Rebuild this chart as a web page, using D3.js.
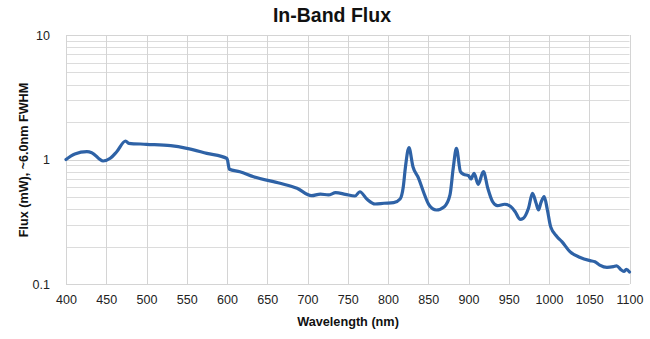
<!DOCTYPE html>
<html>
<head>
<meta charset="utf-8">
<script src="https://cdn.jsdelivr.net/npm/d3@7"></script>
<style>
  html, body { margin: 0; padding: 0; background: #fff; }
  svg { display: block; font-family: "Liberation Sans", Arial, sans-serif; }
</style>
</head>
<body>
<svg id="chart" width="650" height="339"></svg>
<script>
// In-band flux spectrum (mW, ~6.0 nm FWHM) vs wavelength (nm)
const wavelength = [400, 411, 426, 432, 446, 455, 463, 474, 478, 500, 530, 550, 575, 600, 603, 616, 633, 666, 687, 705, 716, 726, 735, 747, 759, 765, 774, 784, 795, 807, 815, 819, 821.5, 826, 831, 838, 844, 851, 860, 870, 877, 881, 885, 890, 894, 900, 903, 907, 912, 918.5, 924, 930, 936, 945, 952, 958, 964, 968, 974.5, 979.5, 984, 987, 990, 994, 998, 1002, 1010, 1016, 1026, 1038, 1051, 1057, 1063, 1072, 1080, 1084, 1089, 1093, 1096, 1100];
const flux = [1.0, 1.107, 1.155, 1.134, 0.973, 1.022, 1.155, 1.408, 1.349, 1.325, 1.291, 1.23, 1.121, 1.019, 0.834, 0.798, 0.727, 0.644, 0.587, 0.512, 0.528, 0.519, 0.541, 0.525, 0.509, 0.551, 0.479, 0.439, 0.445, 0.45, 0.482, 0.605, 0.85, 1.244, 0.875, 0.706, 0.551, 0.431, 0.393, 0.418, 0.519, 0.85, 1.23, 0.798, 0.76, 0.741, 0.697, 0.775, 0.632, 0.798, 0.587, 0.458, 0.426, 0.437, 0.421, 0.381, 0.331, 0.337, 0.406, 0.535, 0.445, 0.393, 0.45, 0.503, 0.393, 0.289, 0.24, 0.219, 0.182, 0.164, 0.154, 0.151, 0.142, 0.136, 0.138, 0.14, 0.131, 0.126, 0.131, 0.125];

const xTicks = [400, 450, 500, 550, 600, 650, 700, 750, 800, 850, 900, 950, 1000, 1050, 1100];
const yTicks = [0.1, 1, 10];
const yMinor = [0.2, 0.3, 0.4, 0.5, 0.6, 0.7, 0.8, 0.9, 2, 3, 4, 5, 6, 7, 8, 9];

const svg = d3.select("#chart");
const plotLeft = 66, plotRight = 629.5, plotTop = 35, plotBottom = 284;

const x = d3.scaleLinear().domain([400, 1100]).range([plotLeft, plotRight]);
const y = d3.scaleLog().domain([0.1, 10]).range([plotBottom, plotTop]);

const grid = svg.append("g");
grid.selectAll("line.minor").data(yMinor).join("line")
  .attr("x1", plotLeft).attr("x2", plotRight)
  .attr("y1", d => Math.round(y(d)) + 0.5).attr("y2", d => Math.round(y(d)) + 0.5)
  .attr("stroke", "#dcdcdc").attr("stroke-width", 1);
grid.selectAll("line.vx").data(xTicks).join("line")
  .attr("x1", d => Math.round(x(d)) + 0.5).attr("x2", d => Math.round(x(d)) + 0.5)
  .attr("y1", plotTop).attr("y2", plotBottom)
  .attr("stroke", "#d4d4d4").attr("stroke-width", 1);
grid.selectAll("line.major").data(yTicks).join("line")
  .attr("x1", plotLeft).attr("x2", plotRight)
  .attr("y1", d => Math.round(y(d)) + 0.5).attr("y2", d => Math.round(y(d)) + 0.5)
  .attr("stroke", "#d4d4d4").attr("stroke-width", 1);

// Axes (labels only, lines drawn by the grid)
const xAxis = svg.append("g")
  .attr("transform", `translate(0,${plotBottom + 8})`)
  .call(d3.axisBottom(x).tickValues(xTicks).tickSize(0).tickFormat(d3.format("d")));
xAxis.select(".domain").remove();
xAxis.selectAll("text").attr("font-size", 12.5).attr("fill", "#222")
  .attr("font-family", "Liberation Sans, Arial, sans-serif");

const yAxis = svg.append("g")
  .attr("transform", `translate(${plotLeft - 13},0)`)
  .call(d3.axisLeft(y).tickValues(yTicks).tickSize(0).tickFormat(d => d === 0.1 ? "0.1" : d3.format("d")(d)));
yAxis.select(".domain").remove();
yAxis.selectAll("text").attr("font-size", 12.5).attr("fill", "#222")
  .attr("font-family", "Liberation Sans, Arial, sans-serif");

// Spectrum line
const line = d3.line()
  .x((d, i) => x(wavelength[i]))
  .y(d => y(d))
  .curve(d3.curveMonotoneX);
svg.append("path")
  .datum(flux)
  .attr("d", line)
  .attr("fill", "none")
  .attr("stroke", "#2e62a6")
  .attr("stroke-width", 3.2)
  .attr("stroke-linejoin", "round")
  .attr("stroke-linecap", "round");

// Titles
svg.append("text")
  .attr("x", 332).attr("y", 22)
  .attr("text-anchor", "middle")
  .attr("font-size", 19.5).attr("font-weight", "bold").attr("fill", "#111")
  .text("In-Band Flux");

svg.append("text")
  .attr("x", 348).attr("y", 326)
  .attr("text-anchor", "middle")
  .attr("font-size", 12.7).attr("font-weight", "bold").attr("fill", "#111")
  .text("Wavelength (nm)");

svg.append("text")
  .attr("transform", "translate(28,160) rotate(-90)")
  .attr("text-anchor", "middle")
  .attr("font-size", 12.6).attr("font-weight", "bold").attr("fill", "#111")
  .text("Flux (mW), ~6.0nm FWHM");
</script>
</body>
</html>
